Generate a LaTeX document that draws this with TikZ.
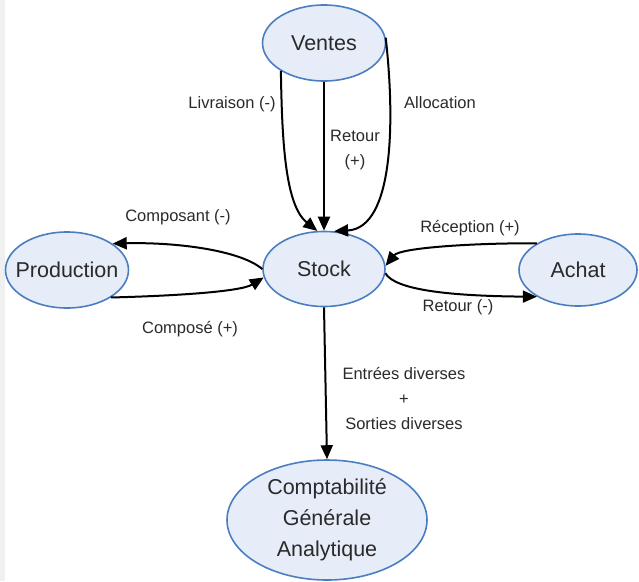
\documentclass[tikz,border=0pt]{standalone}
\usepackage{fontspec}
\setmainfont{Liberation Sans}
\usetikzlibrary{shapes.geometric,arrows.meta}
\definecolor{ellfill}{HTML}{E6ECF8}
\definecolor{elldraw}{HTML}{4A7EC0}
\definecolor{txt}{HTML}{2A2A2A}
\tikzset{
  ent/.style={ellipse,draw=elldraw,fill=ellfill,line width=1.6pt,inner xsep=-25pt,inner ysep=-20pt,
    text=txt,font=\fontsize{21.5}{31}\selectfont,align=center},
  flow/.style={line width=2pt,-{Triangle[length=14pt,width=12pt]}},
  lbl/.style={text=txt,font=\fontsize{16.5}{25}\selectfont,align=center,inner sep=0pt}
}
\begin{document}
\begin{tikzpicture}[x=1pt,y=-1pt]
\useasboundingbox (0,0) rectangle (639,581);
\fill[gray!12] (0,0) rectangle (5,581);
\node[ent,minimum width=123pt,minimum height=76pt] (V) at (324,43) {Ventes};
\node[ent,minimum width=122pt,minimum height=75pt] (S) at (324,269) {Stock};
\node[ent,minimum width=123pt,minimum height=76pt] (P) at (67,270) {Production};
\node[ent,minimum width=118pt,minimum height=72pt] (A) at (578,270) {Achat};
\node[ent,minimum width=200pt,minimum height=120pt] (C) at (327,520) {Comptabilité\\Générale\\Analytique};

% Ventes -> Stock
\draw[flow] (V.213) .. controls (282,140) and (285,205) .. (S.100);
\draw[flow] (V.south) -- (S.north);
\draw[flow] (V.5) .. controls (395,120) and (394,228) .. (S.75);
% Stock <-> Production
\draw[flow] (S.180) .. controls (240,250) and (175,242) .. (P.30);
\draw[flow] (P.328) .. controls (170,296) and (240,292) .. (S.188);
% Achat <-> Stock
\draw[flow] (A.147) .. controls (470,243) and (400,248) .. (S.3);
\draw[flow] (S.356) .. controls (395,290) and (450,296) .. (A.213);
% Stock -> Comptabilite
\draw[flow] (S.south) -- (C.north);

\node[lbl] (l1) at (232,104) {Livraison (-)};
\node[lbl] (l2) at (355,150) {Retour\\(+)};
\node[lbl] (l3) at (440,103) {Allocation};
\node[lbl] (l4) at (178,217) {Composant (-)};
\node[lbl] (l5) at (190,329) {Composé (+)};
\node[lbl] (l6) at (470,228) {Réception (+)};
\node[lbl] (l7) at (458,307) {Retour (-)};
\node[lbl] (l8) at (404,398) {Entrées diverses\\+\\Sorties diverses};
\end{tikzpicture}
\end{document}
